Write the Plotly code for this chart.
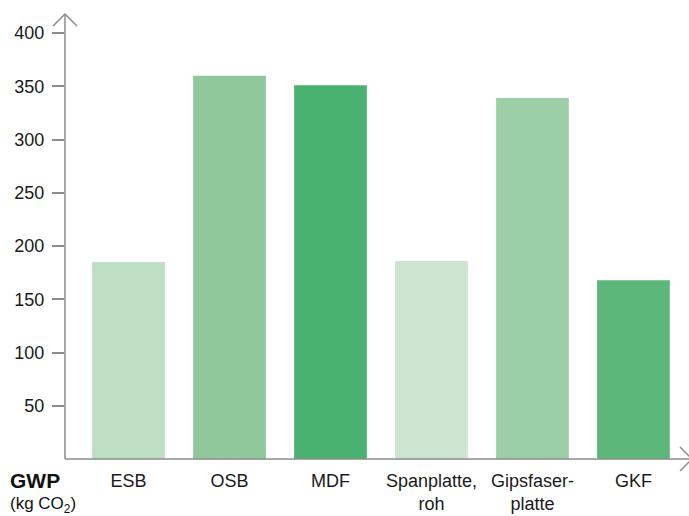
import plotly.graph_objects as go

categories = ["ESB", "OSB", "MDF", "Spanplatte,<br>roh", "Gipsfaser-<br>platte", "GKF"]
gwp_values = [185, 360, 351, 186, 339, 168]
bar_colors = ["#bfdfc4", "#90c89b", "#4ab270", "#cde5d0", "#9dcfa6", "#5db77a"]
y_ticks = [50, 100, 150, 200, 250, 300, 350, 400]

W, H = 689, 516
L, R, T, B = 65, 0, 14, 57
pw, ph = W - L - R, H - T - B

def px(x):
    return (x - L) / pw

def py(y):
    return (H - B - y) / ph

fig = go.Figure(go.Bar(
    x=list(range(len(categories))),
    y=gwp_values,
    marker=dict(color=bar_colors, line=dict(width=0)),
    hoverinfo="skip",
))

axis_color = "#8c8c8c"
font_family = "Liberation Sans, Arial, sans-serif"

fig.update_layout(
    width=W, height=H,
    margin=dict(l=L, r=R, t=T, b=B, pad=0),
    plot_bgcolor="white", paper_bgcolor="white",
    bargap=0.28,
    showlegend=False,
    font=dict(family=font_family, size=18, color="#1a1a1a"),
    xaxis=dict(
        range=[-0.629, 5.55],
        tickmode="array",
        tickvals=list(range(len(categories))),
        ticktext=categories,
        showline=False, showgrid=False, zeroline=False,
        ticks="", tickfont=dict(size=18),
        ticklabelstandoff=9,
    ),
    yaxis=dict(
        range=[0, 418],
        tickmode="array",
        tickvals=y_ticks,
        showline=False, showgrid=False, zeroline=False,
        ticks="outside", ticklen=12, tickcolor=axis_color, tickwidth=1.5,
        tickfont=dict(size=18),
        ticklabelstandoff=4,
    ),
)

shapes = []
shapes.append(dict(type="line", xref="paper", yref="paper",
                   x0=0, x1=0, y0=py(459), y1=py(14),
                   line=dict(color=axis_color, width=1.5)))
shapes.append(dict(type="line", xref="paper", yref="paper",
                   x0=0, x1=1, y0=py(459), y1=py(459),
                   line=dict(color=axis_color, width=1.5)))
shapes.append(dict(type="path", xref="paper", yref="paper",
                   path=f"M {px(53)} {py(26)} L {px(65)} {py(14)} L {px(77)} {py(26)}",
                   line=dict(color=axis_color, width=1.5)))
shapes.append(dict(type="path", xref="paper", yref="paper",
                   path=f"M {px(680)} {py(447)} L {px(692)} {py(459)} L {px(680)} {py(471)}",
                   line=dict(color=axis_color, width=1.5)))
fig.update_layout(shapes=shapes)

fig.add_annotation(text="<b>GWP</b>", xref="paper", yref="paper",
                   x=px(8), y=py(480), xanchor="left", yanchor="middle",
                   showarrow=False, font=dict(size=21, color="#111111"))
fig.add_annotation(text="(kg CO<sub>2</sub>)", xref="paper", yref="paper",
                   x=px(8), y=py(505), xanchor="left", yanchor="middle",
                   showarrow=False, font=dict(size=17, color="#111111"))

fig.write_html(
    "out.html",
    config={"displayModeBar": False},
    post_script="document.body.style.margin='0';document.body.style.overflow='hidden';",
)
